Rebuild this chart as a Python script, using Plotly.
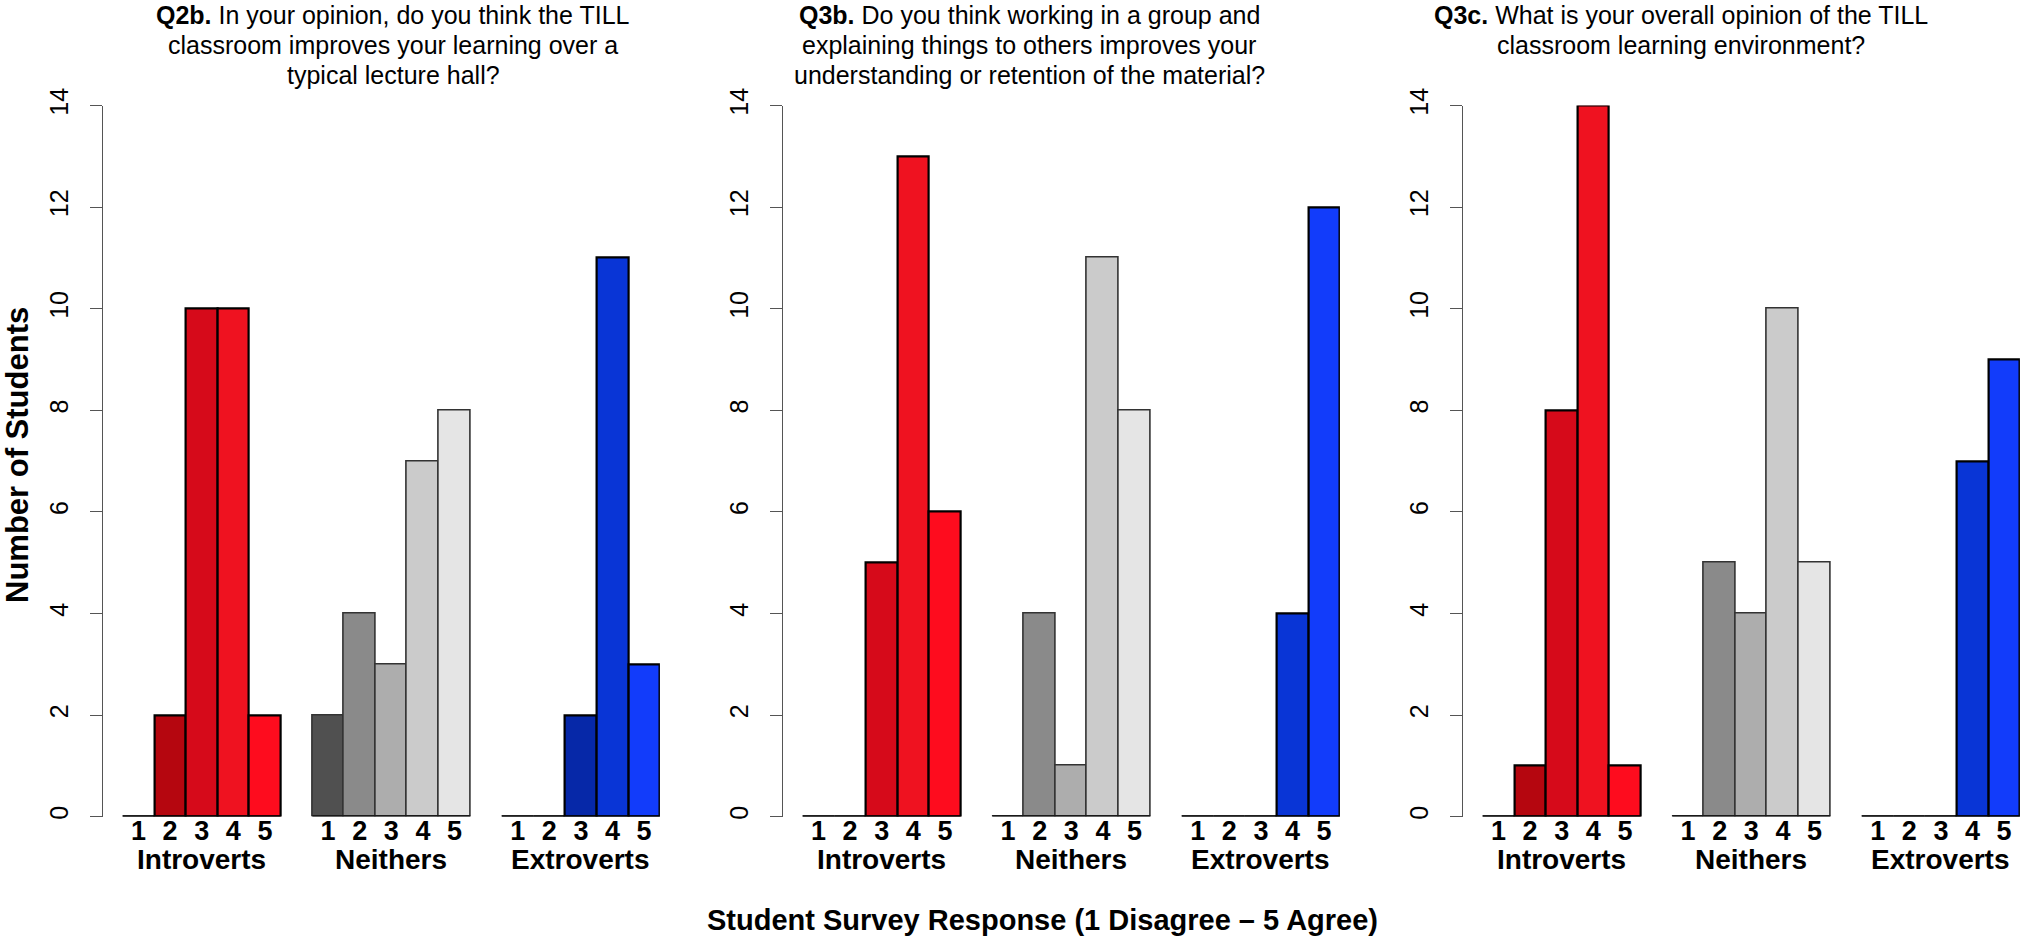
import plotly.graph_objects as go

# ---------------- data ----------------
groups = ["Introverts", "Neithers", "Extroverts"]
responses = ["1", "2", "3", "4", "5"]

q2b_introverts = [0, 2, 10, 10, 2]
q2b_neithers = [2, 4, 3, 7, 8]
q2b_extroverts = [0, 0, 2, 11, 3]

q3b_introverts = [0, 0, 5, 13, 6]
q3b_neithers = [0, 4, 1, 11, 8]
q3b_extroverts = [0, 0, 0, 4, 12]

q3c_introverts = [0, 1, 8, 14, 1]
q3c_neithers = [0, 5, 4, 10, 5]
q3c_extroverts = [0, 0, 0, 7, 9]

titles = [
    ["<b>Q2b.</b> In your opinion, do you think the TILL",
     "classroom improves your learning over a",
     "typical lecture hall?"],
    ["<b>Q3b.</b> Do you think working in a group and",
     "explaining things to others improves your",
     "understanding or retention of the material?"],
    ["<b>Q3c.</b> What is your overall opinion of the TILL",
     "classroom learning environment?"],
]
y_ticks = [0, 2, 4, 6, 8, 10, 12, 14]

# ---------------- styles ----------------
reds = ["#8c0009", "#b5060f", "#d60a1a", "#ef1220", "#fe0c1e"]
greys = ["#505050", "#8a8a8a", "#adadad", "#cbcbcb", "#e5e5e5"]
blues = ["#001c78", "#032296", "#0628a8", "#0935d6", "#123cfa"]
group_colors = [reds, greys, blues]
group_line = ["#000000", "#333333", "#000000"]
group_linew = [2.2, 1.6, 2.2]

W, H = 2024, 937
FONT = "Liberation Sans"
axis_left = [102.7, 782.7, 1462.7]
bar_px = 31.6
gap_units = 0.633
span_units = 17.0 + gap_units
y0_px, y14_px = 816.6, 105.5
title_cx = [393, 1029, 1681]
title_ys = [15, 45, 75]

panels = [
    [q2b_introverts, q2b_neithers, q2b_extroverts],
    [q3b_introverts, q3b_neithers, q3b_extroverts],
    [q3c_introverts, q3c_neithers, q3c_extroverts],
]

fig = go.Figure()
shapes = []
annotations = []
tickvals_all = []
for g in range(3):
    for k in range(5):
        tickvals_all.append(g * 6 + k + 0.5)
ticktext_all = responses * 3

for p, panel in enumerate(panels):
    xa = "x" if p == 0 else f"x{p+1}"
    ya = "y" if p == 0 else f"y{p+1}"
    for g, vals in enumerate(panel):
        xs = [g * 6 + k + 0.5 for k in range(len(vals))]
        fig.add_trace(go.Bar(
            x=xs, y=vals, width=1.0,
            marker=dict(color=group_colors[g],
                        line=dict(color=group_line[g], width=group_linew[g])),
            xaxis=xa, yaxis=ya, showlegend=False, hoverinfo="skip",
        ))
        shapes.append(dict(type="line", xref=xa, yref=ya,
                           x0=g * 6, x1=g * 6 + 5, y0=0, y1=0,
                           line=dict(color="#000000", width=2.2), layer="above"))
        annotations.append(dict(
            text=f"<b>{groups[g]}</b>", xref=xa, yref="paper",
            x=g * 6 + 2.5, y=(H - 859) / H, showarrow=False,
            font=dict(family=FONT, size=28, color="#000"),
            xanchor="center", yanchor="middle"))
    dom0 = axis_left[p] / W
    dom1 = (axis_left[p] + span_units * bar_px) / W
    xkey = "xaxis" if p == 0 else f"xaxis{p+1}"
    ykey = "yaxis" if p == 0 else f"yaxis{p+1}"
    fig.update_layout(**{
        xkey: dict(domain=[dom0, dom1], range=[-gap_units, 17.0],
                   anchor=ya, showline=False, showgrid=False, zeroline=False,
                   automargin=False,
                   ticks="", tickvals=tickvals_all, ticktext=ticktext_all,
                   tickfont=dict(family=FONT, size=27, color="#000", weight="bold"),
                   ticklabelstandoff=-5, fixedrange=True),
        ykey: dict(domain=[(H - y0_px) / H, (H - y14_px) / H], range=[0, 14],
                   anchor=xa, showline=True, linecolor="#555555", linewidth=1.3,
                   automargin=False,
                   ticks="outside", ticklen=12, tickcolor="#555555", tickwidth=1.3,
                   tickvals=y_ticks, tickangle=-90,
                   tickfont=dict(family=FONT, size=25, color="#000"),
                   ticklabelstandoff=12,
                   showgrid=False, zeroline=False, fixedrange=True),
    })
    for i, line in enumerate(titles[p]):
        annotations.append(dict(
            text=line, xref="paper", yref="paper",
            x=title_cx[p] / W, y=(H - title_ys[i]) / H, showarrow=False,
            font=dict(family=FONT, size=25, color="#000"),
            xanchor="center", yanchor="middle"))

annotations.append(dict(
    text="<b>Number of Students</b>", xref="paper", yref="paper",
    x=17 / W, y=(H - 455) / H, showarrow=False, textangle=-90,
    font=dict(family=FONT, size=31, color="#000"),
    xanchor="center", yanchor="middle"))
annotations.append(dict(
    text="<b>Student Survey Response (1 Disagree \u2013 5 Agree)</b>",
    xref="paper", yref="paper", x=1042 / W, y=(H - 920) / H, showarrow=False,
    font=dict(family=FONT, size=29, color="#000"),
    xanchor="center", yanchor="middle"))

fig.update_layout(
    width=W, height=H, autosize=False,
    margin=dict(l=0, r=0, t=0, b=0, pad=0, autoexpand=False),
    paper_bgcolor="white", plot_bgcolor="white",
    bargap=0, shapes=shapes, annotations=annotations,
    font=dict(family=FONT),
)

post_js = (
    "var h=document.documentElement.style;h.margin='0';h.padding='0';h.overflow='hidden';"
    "var b=document.body.style;b.margin='0';b.padding='0';b.overflow='hidden';"
    "var d=document.getElementById('{plot_id}');"
    "d.style.position='absolute';d.style.left='0px';d.style.top='0px';"
)
fig.write_html("out.html", config={"displayModeBar": False}, post_script=post_js)
